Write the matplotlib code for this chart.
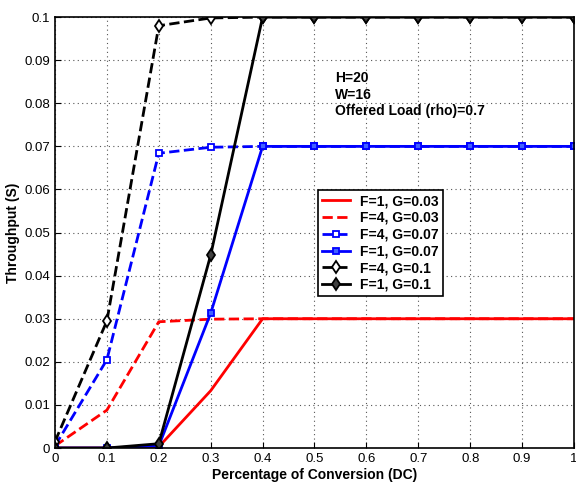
import matplotlib
matplotlib.use("Agg")
import matplotlib.pyplot as plt

plt.rcParams['font.family'] = ['Liberation Sans', 'DejaVu Sans']

dc = [0, 0.1, 0.2, 0.3, 0.4, 0.5, 0.6, 0.7, 0.8, 0.9, 1.0]

f1_g003 = [0, 0, 0.0003, 0.0133, 0.030, 0.030, 0.030, 0.030, 0.030, 0.030, 0.030]
f4_g003 = [0.0005, 0.0088, 0.0293, 0.0299, 0.030, 0.030, 0.030, 0.030, 0.030, 0.030, 0.030]
f4_g007 = [0.0005, 0.0205, 0.0684, 0.0698, 0.070, 0.070, 0.070, 0.070, 0.070, 0.070, 0.070]
f1_g007 = [0, 0, 0.0005, 0.0313, 0.070, 0.070, 0.070, 0.070, 0.070, 0.070, 0.070]
f4_g01 = [0.0015, 0.0295, 0.0980, 0.0998, 0.100, 0.100, 0.100, 0.100, 0.100, 0.100, 0.100]
f1_g01 = [0, 0, 0.0010, 0.0448, 0.100, 0.100, 0.100, 0.100, 0.100, 0.100, 0.100]

fig = plt.figure(figsize=(5.76, 4.82), dpi=100)
ax = fig.add_axes([0.0955, 0.0705, 0.901, 0.894])

ax.plot(dc, f1_g003, 'r-', lw=2, label='F=1, G=0.03')
ax.plot(dc, f4_g003, 'r--', lw=2, label='F=4, G=0.03')
ax.plot(dc, f4_g007, 'b--', lw=2, marker='s', ms=5, mfc='white', mew=1.3, label='F=4, G=0.07')
ax.plot(dc, f1_g007, 'b-', lw=2, marker='s', ms=5, mfc='#4060ff', mew=1.3, label='F=1, G=0.07')
ax.plot(dc, f4_g01, 'k--', lw=2, marker='d', ms=6, mfc='white', mew=1.3, label='F=4, G=0.1')
ax.plot(dc, f1_g01, 'k-', lw=2, marker='d', ms=6, mfc='#404040', mew=1.3, label='F=1, G=0.1')

ax.set_xlim(0, 1)
ax.set_ylim(0, 0.1)
ax.set_xticks(dc)
ax.set_xticklabels(['0', '0.1', '0.2', '0.3', '0.4', '0.5', '0.6', '0.7', '0.8', '0.9', '1'])
ax.set_yticks([i / 100 for i in range(11)])
ax.set_yticklabels(['0'] + ['0.0%d' % i for i in range(1, 10)] + ['0.1'])
ax.tick_params(direction='in', labelsize=9.5, length=4)
ax.grid(True, linestyle=(0, (1, 3)), color='#555555', lw=0.8)
for s in ax.spines.values():
    s.set_linewidth(1.2)

ax.set_xlabel('Percentage of Conversion (DC)', fontsize=10, fontweight='bold', labelpad=2)
ax.set_ylabel('Throughput (S)', fontsize=10, fontweight='bold', labelpad=3)

ax.text(0.54, 0.0875, 'H=20\nW=16\nOffered Load (rho)=0.7', fontsize=10,
        fontweight='bold', va='top', ha='left', linespacing=1.25)

leg = ax.legend(loc='upper left', bbox_to_anchor=(0.507, 0.599), borderaxespad=0,
                fancybox=False, framealpha=1, edgecolor='k',
                prop={'weight': 'bold', 'size': 10},
                borderpad=0.3, labelspacing=0.2, handlelength=2.0, handletextpad=0.7)
leg.get_frame().set_linewidth(1.2)

fig.savefig('out.png', dpi=100)
